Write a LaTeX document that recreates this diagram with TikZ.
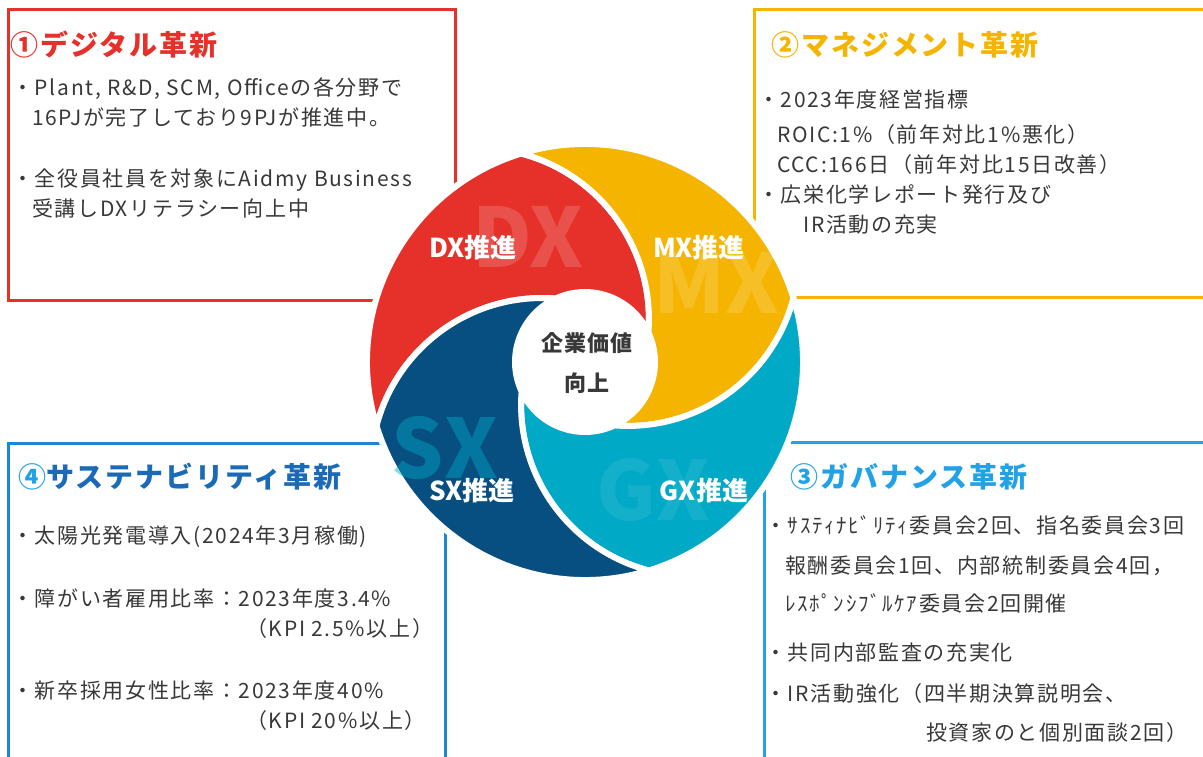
\documentclass[tikz,border=0pt]{standalone}
\usepackage{fontspec}
\setmainfont{Noto Sans CJK JP}
\usetikzlibrary{positioning}
\definecolor{DxRed}{HTML}{E5312A}
\definecolor{MxYellow}{HTML}{F5B400}
\definecolor{GxTeal}{HTML}{00A9C6}
\definecolor{SxNavy}{HTML}{064F80}
\definecolor{GovBlue}{HTML}{22A2E6}
\definecolor{SusBlue}{HTML}{1E86D6}
\definecolor{SusTitle}{HTML}{1A6AB8}
\definecolor{BodyGray}{HTML}{383838}

\begin{document}
\begin{tikzpicture}[x=1pt,y=1pt,
        frame/.style={line width=3pt},
        boxtitle/.style={anchor=west,inner sep=0pt,
                     font=\fontsize{28}{30}\selectfont\bfseries\addfontfeature{LetterSpace=7}},
        bodyline/.style={anchor=west,inner sep=0pt,text=BodyGray,
                     text height=18.5pt,text depth=2.5pt,
                     font=\fontsize{21}{25}\selectfont\addfontfeature{LetterSpace=8}},
        petallabel/.style={text=white,inner sep=0pt,
                     font=\fontsize{26}{28}\selectfont\bfseries},
        watermark/.style={inner sep=0pt,font=\fontsize{82}{84}\selectfont\bfseries}]
  \useasboundingbox (0,0) rectangle (1203,-757);

  % four frames
  \draw[frame,draw=DxRed] (8,-10) rectangle (455,-300);
  \draw[frame,draw=MxYellow] (754,-10) rectangle (1215,-297);
  \draw[frame,draw=GovBlue] (764,-442) rectangle (1215,-775);
  \draw[frame,draw=SusBlue] (8,-443) rectangle (445,-775);

  \node[boxtitle,text=DxRed] (t1) at (10,-45) {①デジタル革新};
  \foreach \n/\px/\py/\txt in {
      1/12/88/{・Plant, R\&D, SCM, Officeの各分野で},
      2/32/118/{16PJが完了しており9PJが推進中。},
      3/12/178/{・全役員社員を対象にAidmy Business},
      4/32/208/{受講しDXリテラシー向上中}}{
    \node[bodyline] (d\n) at (\px,-\py) {\txt};
  }

  \node[boxtitle,text=MxYellow] (t2) at (771,-45) {②マネジメント革新};
  \foreach \n/\px/\py/\txt in {
      1/758/100/{・2023年度経営指標},
      2/777/135/{ROIC:1\%（前年対比1\%悪化）},
      3/777/165/{CCC:166日（前年対比15日改善）},
      4/758/195/{・広栄化学レポート発行及び},
      5/803/225/{IR活動の充実}}{
    \node[bodyline] (m\n) at (\px,-\py) {\txt};
  }

  \node[boxtitle,text=GovBlue] (t3) at (790,-477) {③ガバナンス革新};
  \foreach \n/\px/\py/\txt in {
      1/765/525/{・ｻｽﾃｨﾅﾋﾞﾘﾃｨ委員会2回、指名委員会3回},
      2/785/565/{報酬委員会1回、内部統制委員会4回，},
      3/785/603/{ﾚｽﾎﾟﾝｼﾌﾞﾙｹｱ委員会2回開催},
      4/765/652/{・共同内部監査の充実化},
      5/765/693/{・IR活動強化（四半期決算説明会、},
      6/926/732/{投資家のと個別面談2回）}}{
    \node[bodyline] (g\n) at (\px,-\py) {\txt};
  }

  \node[boxtitle,text=SusTitle] (t4) at (18,-477) {{\color{GovBlue}④}サステナビリティ革新};
  \foreach \n/\px/\py/\txt in {
      1/12/535/{・太陽光発電導入(2024年3月稼働)},
      2/12/598/{・障がい者雇用比率：2023年度3.4\%},
      3/246/628/{（KPI 2.5\%以上）},
      4/12/690/{・新卒採用女性比率：2023年度40\%},
      5/246/720/{（KPI 20\%以上）}}{
    \node[bodyline] (s\n) at (\px,-\py) {\txt};
  }

  % swirl
  \fill[white] (585,-362) circle (221);
  \begin{scope}[shift={(585,-362)}]
    \foreach \ang/\col in {0/DxRed,-90/MxYellow,-180/GxTeal,-270/SxNavy}{
      \filldraw[fill=\col,draw=white,line width=6pt,rotate=\ang]
        (107:218) arc[start angle=107,end angle=197,radius=218]
        arc[start angle=165.27,end angle=85.535,radius=171.2]
        arc[start angle=115,end angle=25,radius=70]
        arc[start angle=-4.465,end angle=75.27,radius=171.2] -- cycle;
    }
  \end{scope}

  \node[watermark,text=white,opacity=0.16] (dxw) at (528,-237) {DX};
  \node[watermark,text=white,opacity=0.15] (mxw) at (716,-283) {MX};
  \node[watermark,text=GxTeal,opacity=0.45] (sxw) at (445,-448) {SX};
  \node[watermark,text=white,opacity=0.08] (gxw) at (653,-490) {GX};

  \node[petallabel] (dx) at (473,-248) {DX推進};
  \node[petallabel] (mx) at (699,-248) {MX推進};
  \node[petallabel] (sx) at (472,-491) {SX推進};
  \node[petallabel] (gx) at (704,-491) {GX推進};

  \node[align=center,text=BodyGray,
        font=\fontsize{22}{40}\selectfont\bfseries\addfontfeature{LetterSpace=5}]
        (core) at (587,-363) {企業価値\\向上};
\end{tikzpicture}
\end{document}
